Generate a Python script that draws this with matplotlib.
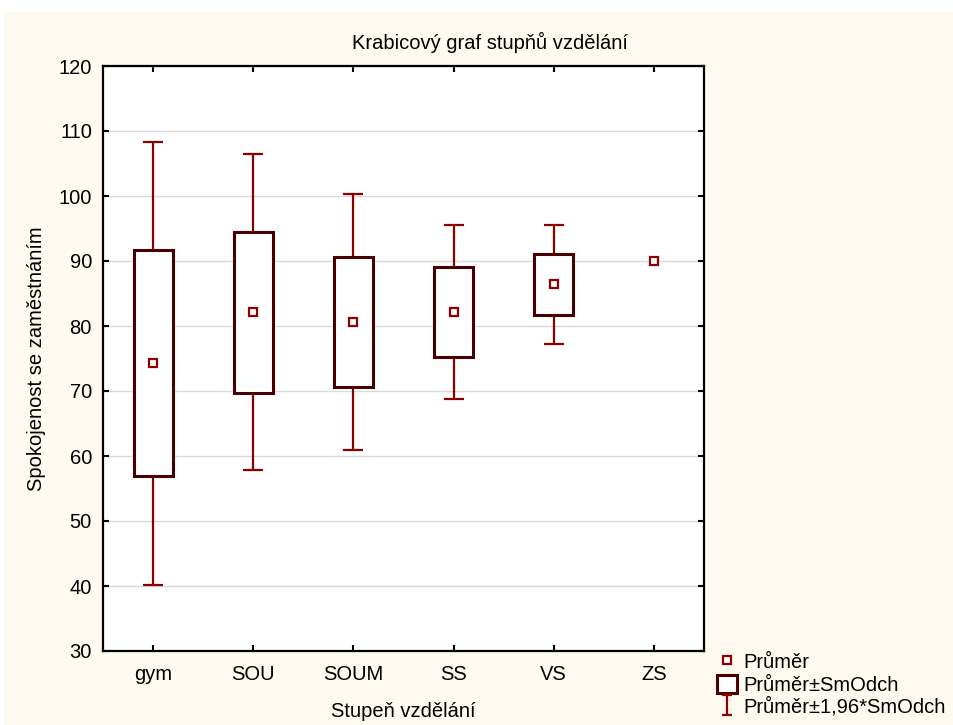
import numpy as np
import matplotlib.pyplot as plt
from matplotlib.patches import Rectangle, Patch
from matplotlib.lines import Line2D
from matplotlib.path import Path

plt.rcParams['font.family'] = ['Liberation Sans', 'DejaVu Sans']

# data: mean and standard deviation per group
categories = ['gym', 'SOU', 'SOUM', 'SS', 'VS', 'ZS']
means = [74.25, 82.1, 80.6, 82.15, 86.4, 90.05]
sds = [17.4, 12.4, 10.05, 6.85, 4.7, np.nan]
yticks = [30, 40, 50, 60, 70, 80, 90, 100, 110, 120]

box_col = '#4a0000'
wh_col = '#8b0000'
bg = '#fffaef'
fs = 14.5

fig = plt.figure(figsize=(9.54, 7.25), dpi=100)
fig.patch.set_facecolor('white')
fig.patches.append(Rectangle((4 / 954, 0), 1, 1 - 12 / 725, transform=fig.transFigure,
                             facecolor=bg, edgecolor='none', zorder=-10))
ax = fig.add_axes([103 / 954, 1 - 651 / 725, 601 / 954, 585 / 725])
ax.set_facecolor('white')

x = np.arange(len(categories))
for i, (m, s) in enumerate(zip(means, sds)):
    if not np.isnan(s):
        lo, hi = m - 1.96 * s, m + 1.96 * s
        ax.vlines(i, m + s, hi, color=wh_col, lw=1.6, zorder=2)
        ax.vlines(i, lo, m - s, color=wh_col, lw=1.6, zorder=2)
        ax.hlines([lo, hi], i - 0.1, i + 0.1, color=wh_col, lw=1.6, zorder=2)
        ax.bar(i, 2 * s, bottom=m - s, width=0.39, facecolor='white',
               edgecolor=box_col, linewidth=2.2, zorder=3)
ax.plot(x, means, 's', ms=6, mfc='white', mec=wh_col, mew=1.6, ls='none', zorder=4)

ax.set_xlim(-0.5, len(categories) - 0.5)
ax.set_ylim(30, 120)
ax.set_xticks(x)
ax.set_xticklabels(categories, fontsize=fs)
ax.set_yticks(yticks)
ax.set_yticklabels([str(t) for t in yticks], fontsize=fs)
ax.tick_params(direction='in', length=4, width=1.5, top=True, right=True, pad=8)
ax.tick_params(axis='x', pad=10)
ax.yaxis.grid(True, color='#d9d9d9', lw=1)
ax.set_axisbelow(True)
for sp in ax.spines.values():
    sp.set_linewidth(1.6)
    sp.set_color('black')

ax.set_ylabel('Spokojenost se zaměstnáním', fontsize=fs, labelpad=9)
ax.set_xlabel('Stupeň vzdělání', fontsize=fs, labelpad=13)
fig.text(490 / 954, 1 - 42 / 725, 'Krabicový graf stupňů vzdělání', fontsize=fs,
         ha='center', va='center')

# legend
ibeam = Path([(-0.5, 1), (0.5, 1), (0, 1), (0, -1), (-0.5, -1), (0.5, -1)],
             [Path.MOVETO, Path.LINETO, Path.MOVETO, Path.LINETO, Path.MOVETO, Path.LINETO])
handles = [
    Line2D([], [], marker='s', ms=6, mfc='white', mec=wh_col, mew=1.6, ls='none'),
    Patch(facecolor='white', edgecolor=box_col, linewidth=2.2),
    Line2D([], [], marker=ibeam, ms=15, mec=wh_col, mew=1.6, ls='none'),
]
labels = ['Průměr', 'Průměr±SmOdch', 'Průměr±1,96*SmOdch']
fig.legend(handles, labels, loc='lower left', bbox_to_anchor=(709 / 954, 0.0),
           frameon=False, fontsize=fs, handlelength=1.0, handleheight=1.0,
           handletextpad=0.3, labelspacing=0.12, borderaxespad=0.15, borderpad=0.25)

fig.savefig('out.png', dpi=100, facecolor=fig.get_facecolor())
